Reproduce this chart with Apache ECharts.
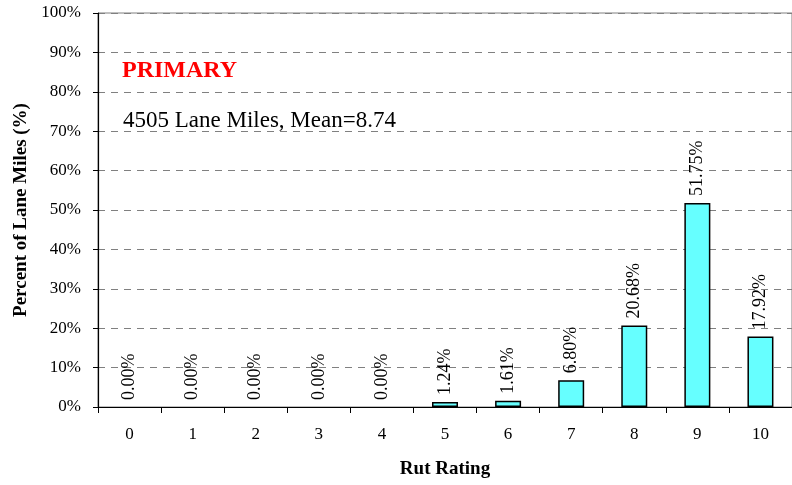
<!DOCTYPE html>
<html>
<head>
<meta charset="utf-8">
<script src="https://cdn.jsdelivr.net/npm/echarts@6/dist/echarts.min.js"></script>
<style>html,body{margin:0;padding:0;background:#fff;}#c{width:792px;height:485px;}</style>
</head>
<body>
<div id="c"></div>
<script>
var categories = ['0','1','2','3','4','5','6','7','8','9','10'];
var values = [0, 0, 0, 0, 0, 1.24, 1.61, 6.80, 20.68, 51.75, 17.92];
var yTicks = [0,10,20,30,40,50,60,70,80,90,100];
var titleText = 'PRIMARY';
var subText = '4505 Lane Miles, Mean=8.74';

var serif = '"Liberation Serif", "Times New Roman", serif';
var barData = values.map(function(v){
  return v === 0 ? {value: v, itemStyle: {borderWidth: 0, color: 'transparent'}} : {value: v};
});
var chart = echarts.init(document.getElementById('c'), null, {renderer:'canvas'});
chart.setOption({
  animation: false,
  backgroundColor: '#fff',
  grid: {left: 98, top: 13, width: 699, height: 394, show: true, borderColor: '#808080', borderWidth: 1, backgroundColor: 'transparent'},
  xAxis: {
    type: 'category', data: categories,
    name: 'Rut Rating', nameLocation: 'middle', nameGap: 53,
    nameTextStyle: {fontFamily: serif, fontSize: 19, fontWeight: 'bold', color: '#000'},
    axisLine: {lineStyle: {color: '#000', width: 1.2}},
    axisTick: {show: true, length: 6, alignWithLabel: false, lineStyle: {color: '#000'}},
    axisLabel: {fontFamily: serif, fontSize: 17, color: '#000', margin: 19},
    splitLine: {show: false}
  },
  yAxis: {
    type: 'value', min: 0, max: 100, interval: 10,
    name: 'Percent of Lane Miles (%)', nameLocation: 'middle', nameGap: 67,
    nameTextStyle: {fontFamily: serif, fontSize: 19, fontWeight: 'bold', color: '#000'},
    axisLine: {show: true, lineStyle: {color: '#000', width: 1.2}},
    axisTick: {show: true, length: 5, lineStyle: {color: '#000'}},
    axisLabel: {fontFamily: serif, fontSize: 17, color: '#000', margin: 17,
      formatter: function(v){ return yTicks.indexOf(v) >= 0 ? v + '%' : ''; }},
    splitLine: {show: true, lineStyle: {color: '#808080', type: [7,6], width: 1}}
  },
  series: [{
    type: 'bar', data: barData, barWidth: 26,
    itemStyle: {color: '#66FFFF', borderColor: '#000', borderWidth: 1.5},
    label: {show: true, position: 'top', rotate: 90, align: 'left', verticalAlign: 'middle', distance: 7,
      fontFamily: serif, fontSize: 18, color: '#000',
      formatter: function(p){ return p.value.toFixed(2) + '%'; }}
  }],
  graphic: [
    {type: 'text', x: 122, y: 71, style: {text: titleText, fill: '#FF0000', font: 'bold 24px ' + serif, verticalAlign: 'middle'}},
    {type: 'text', x: 123, y: 121, style: {text: subText, fill: '#000', font: '23px ' + serif, verticalAlign: 'middle'}}
  ]
});
</script>
</body>
</html>
